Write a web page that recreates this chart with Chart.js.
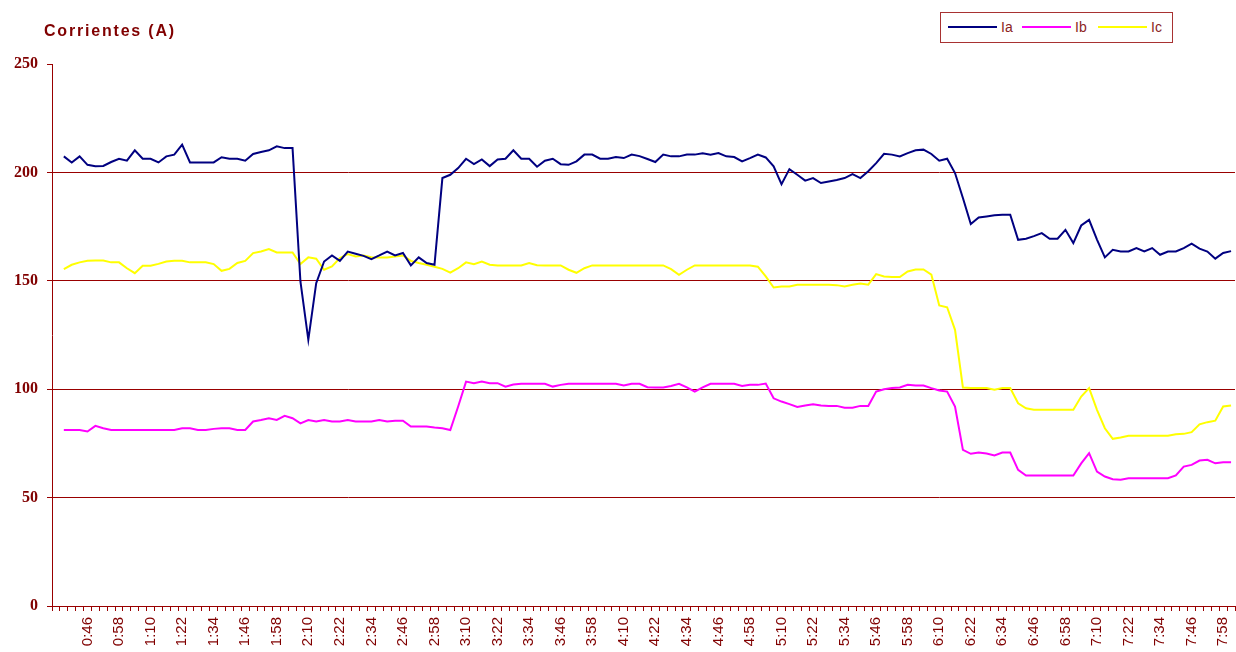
<!DOCTYPE html>
<html lang="es">
<head>
    <meta charset="UTF-8">
    <title>Corrientes (A)</title>
    <script src="https://cdn.jsdelivr.net/npm/chart.js"></script>
    <style>
        html, body { margin: 0; padding: 0; background: #fff; }
        #wrap { position: relative; width: 1236px; height: 652px; overflow: hidden; }
        #chart { position: absolute; left: 0; top: 0; }
        #title {
            position: absolute; left: 44px; top: 22px;
            font: bold 16px "Liberation Sans", Arial, sans-serif;
            letter-spacing: 1.8px; color: #800000; white-space: nowrap;
        }
        #legend {
            position: absolute; left: 940px; top: 12px; width: 231px; height: 29px;
            border: 1px solid #a83232; background: #fff;
        }
        .swatch { position: absolute; top: 13px; height: 2px; width: 49px; }
        .lbl {
            position: absolute; top: 6px;
            font: 14px "Liberation Sans", Arial, sans-serif; color: #8b2323;
        }
    </style>
</head>
<body>
<div id="wrap">
    <canvas id="chart" width="1236" height="652"></canvas>
    <div id="title">Corrientes (A)</div>
    <div id="legend">
        <div class="swatch" style="left:7px;background:#000080"></div><div class="lbl" style="left:60px">Ia</div>
        <div class="swatch" style="left:81px;background:#ff00ff"></div><div class="lbl" style="left:134px">Ib</div>
        <div class="swatch" style="left:157px;background:#ffff00"></div><div class="lbl" style="left:210px">Ic</div>
    </div>
</div>

<script>
    // categories (first slot is blank in the source sheet)
    const times = ["",
        "0:37", "0:40", "0:43", "0:46", "0:49", "0:52", "0:55", "0:58",
        "1:01", "1:04", "1:07", "1:10", "1:13", "1:16", "1:19", "1:22", "1:25", "1:28", "1:31", "1:34", "1:37", "1:40", "1:43", "1:46", "1:49", "1:52", "1:55", "1:58",
        "2:01", "2:04", "2:07", "2:10", "2:13", "2:16", "2:19", "2:22", "2:25", "2:28", "2:31", "2:34", "2:37", "2:40", "2:43", "2:46", "2:49", "2:52", "2:55", "2:58",
        "3:01", "3:04", "3:07", "3:10", "3:13", "3:16", "3:19", "3:22", "3:25", "3:28", "3:31", "3:34", "3:37", "3:40", "3:43", "3:46", "3:49", "3:52", "3:55", "3:58",
        "4:01", "4:04", "4:07", "4:10", "4:13", "4:16", "4:19", "4:22", "4:25", "4:28", "4:31", "4:34", "4:37", "4:40", "4:43", "4:46", "4:49", "4:52", "4:55", "4:58",
        "5:01", "5:04", "5:07", "5:10", "5:13", "5:16", "5:19", "5:22", "5:25", "5:28", "5:31", "5:34", "5:37", "5:40", "5:43", "5:46", "5:49", "5:52", "5:55", "5:58",
        "6:01", "6:04", "6:07", "6:10", "6:13", "6:16", "6:19", "6:22", "6:25", "6:28", "6:31", "6:34", "6:37", "6:40", "6:43", "6:46", "6:49", "6:52", "6:55", "6:58",
        "7:01", "7:04", "7:07", "7:10", "7:13", "7:16", "7:19", "7:22", "7:25", "7:28", "7:31", "7:34", "7:37", "7:40", "7:43", "7:46", "7:49", "7:52", "7:55", "7:58",
        "8:01"];

    const ia = [null,
        207.4, 204.6, 207.4, 203.5, 202.8, 203, 204.8, 206.3, 205.4, 210.2,
        206.3, 206.3, 204.6, 207.4, 208.2, 212.8, 204.6, 204.6, 204.6, 204.6,
        207, 206.3, 206.3, 205.4, 208.5, 209.4, 210.2, 212, 211.2, 211.2,
        149.7, 122.8, 148.9, 158.9, 161.7, 159.2, 163.5, 162.5, 161.5, 160,
        161.7, 163.5, 161.7, 162.8, 157.1, 160.8, 158.2, 157.4, 197.4, 198.9,
        202, 206.3, 203.8, 206, 202.9, 206, 206.3, 210.2, 206.3, 206.3,
        202.6, 205.4, 206.3, 203.8, 203.5, 205.1, 208.2, 208.2, 206.3, 206.3,
        207.1, 206.6, 208.2, 207.5, 206.2, 204.8, 208.2, 207.4, 207.4, 208.2,
        208.2, 208.8, 208.2, 208.9, 207.4, 207.1, 205.1, 206.6, 208.2, 206.9,
        202.8, 194.6, 201.5, 198.9, 196.2, 197.4, 195.1, 195.8, 196.5, 197.4,
        199.2, 197.4, 200.5, 204.3, 208.6, 208.2, 207.4, 208.9, 210.2, 210.5,
        208.5, 205.4, 206.3, 199.7, 188.2, 176.2, 179.2, 179.7, 180.2, 180.5,
        180.5, 168.9, 169.4, 170.6, 172, 169.4, 169.4, 173.5, 167.4, 175.5,
        178.1, 169, 160.8, 164.3, 163.5, 163.5, 165.1, 163.5, 165.1, 162,
        163.5, 163.5, 165.1, 167.1, 164.8, 163.5, 160.2, 162.8, 163.7];

    const ib = [null,
        81.2, 81.2, 81.2, 80.5, 83.1, 82, 81.2, 81.2, 81.2, 81.2,
        81.2, 81.2, 81.2, 81.2, 81.2, 82, 82, 81.2, 81.2, 81.7,
        82, 82, 81.2, 81.2, 85.1, 85.8, 86.6, 85.8, 87.7, 86.6,
        84.2, 85.8, 85.1, 85.8, 85.1, 85.1, 85.8, 85.1, 85.1, 85.1,
        85.8, 85.1, 85.4, 85.5, 82.8, 82.8, 82.8, 82.3, 82, 81.2,
        92, 103.5, 102.8, 103.5, 102.8, 102.8, 101.2, 102.2, 102.5, 102.5,
        102.5, 102.5, 101.2, 102, 102.5, 102.5, 102.5, 102.5, 102.5, 102.5,
        102.5, 101.7, 102.5, 102.5, 100.9, 100.8, 100.8, 101.5, 102.5, 100.8,
        98.9, 100.8, 102.5, 102.5, 102.5, 102.5, 101.5, 102, 102, 102.6,
        95.8, 94.3, 93.1, 91.8, 92.5, 93.1, 92.5, 92.3, 92.3, 91.5,
        91.5, 92.3, 92.3, 98.9, 100, 100.5, 100.8, 102, 101.7, 101.7,
        100.5, 99.4, 98.9, 92, 72, 70.2, 70.8, 70.3, 69.4, 70.8,
        70.8, 62.8, 60.2, 60.2, 60.2, 60.2, 60.2, 60.2, 60.2, 65.8,
        70.5, 62, 59.7, 58.5, 58.2, 58.9, 58.9, 58.9, 58.9, 58.9,
        58.9, 60.2, 64.3, 65.1, 67.1, 67.4, 65.8, 66.3, 66.3];

    const ic = [null,
        155.4, 157.4, 158.5, 159.2, 159.4, 159.4, 158.5, 158.5, 155.8, 153.5,
        156.9, 156.9, 157.8, 158.9, 159.2, 159.2, 158.5, 158.5, 158.5, 157.7,
        154.6, 155.5, 158.2, 159.2, 162.8, 163.5, 164.6, 163.1, 163.1, 163.1,
        157.7, 160.8, 160.2, 155.1, 156.6, 160.5, 162.3, 161.2, 161.7, 160.9,
        160.8, 160.8, 161.2, 161.7, 159.2, 158.2, 157.4, 156.5, 155.5, 153.8,
        155.8, 158.5, 157.7, 158.9, 157.4, 157.1, 157.1, 157.1, 157.1, 158.2,
        157.2, 157.1, 157.1, 157.1, 155.1, 153.7, 155.8, 157.1, 157.1, 157.1,
        157.1, 157.1, 157.1, 157.1, 157.1, 157.1, 157.1, 155.4, 152.8, 155.1,
        157.1, 157.1, 157.1, 157.1, 157.1, 157.1, 157.1, 157.1, 156.5, 152,
        146.9, 147.4, 147.4, 148.2, 148.2, 148.2, 148.2, 148.2, 148, 147.4,
        148.2, 148.8, 148.2, 153.1, 152, 151.7, 151.7, 154.3, 155.2, 155.2,
        152.8, 138.6, 137.8, 127.4, 100.8, 100.5, 100.5, 100.5, 99.7, 100.5,
        100.5, 93.5, 91.2, 90.5, 90.5, 90.5, 90.5, 90.5, 90.5, 96.6,
        100.5, 90.5, 82, 77.1, 77.7, 78.5, 78.5, 78.5, 78.5, 78.5,
        78.5, 79.2, 79.4, 80.2, 83.8, 84.8, 85.5, 92, 92.5];

    const yTicks = [0, 50, 100, 150, 200, 250];

    const axisRed = "#990000";
    const textRed = "#800000";

    const ctx = document.getElementById("chart").getContext("2d");
    new Chart(ctx, {
        type: "line",
        data: {
            labels: times,
            datasets: [
                { label: "Ia", data: ia, borderColor: "#000080", backgroundColor: "#000080" },
                { label: "Ib", data: ib, borderColor: "#ff00ff", backgroundColor: "#ff00ff" },
                { label: "Ic", data: ic, borderColor: "#ffff00", backgroundColor: "#ffff00" },
            ],
        },
        options: {
            responsive: false,
            animation: false,
            devicePixelRatio: 1,
            layout: { padding: { top: 64, right: 1, left: 0, bottom: 0 } },
            elements: {
                line: { borderWidth: 2, tension: 0, fill: false },
                point: { radius: 0, hoverRadius: 0 },
            },
            plugins: {
                legend: { display: false },
                title: { display: false },
                tooltip: { enabled: false },
            },
            scales: {
                x: {
                    type: "category",
                    offset: true,
                    grid: { offset: true, drawOnChartArea: false, drawTicks: true, tickLength: 5, color: axisRed },
                    border: { color: axisRed, width: 1 },
                    ticks: {
                        autoSkip: false,
                        minRotation: 90,
                        maxRotation: 90,
                        padding: 6,
                        color: textRed,
                        font: { family: "'Liberation Sans', Arial, sans-serif", size: 15 },
                        callback: function (val, i) {
                            return i % 4 === 0 ? this.getLabelForValue(val) : "";
                        },
                    },
                    afterFit: (s) => { s.height = 46; s.paddingLeft = 0; s.paddingRight = 0; },
                },
                y: {
                    min: yTicks[0],
                    max: yTicks[yTicks.length - 1],
                    afterBuildTicks: (s) => { s.ticks = yTicks.map(v => ({ value: v })); },
                    grid: {
                        color: (c) => (c.tick && c.tick.value === 250 ? "rgba(0,0,0,0)" : axisRed),
                        tickColor: axisRed,
                        tickLength: 5,
                    },
                    border: { color: axisRed, width: 1 },
                    ticks: {
                        padding: 9,
                        color: textRed,
                        font: { family: "'Liberation Serif', 'Times New Roman', serif", size: 16, weight: "bold" },
                    },
                    afterFit: (s) => { s.width = 52; },
                },
            },
        },
    });
</script>
</body>
</html>
